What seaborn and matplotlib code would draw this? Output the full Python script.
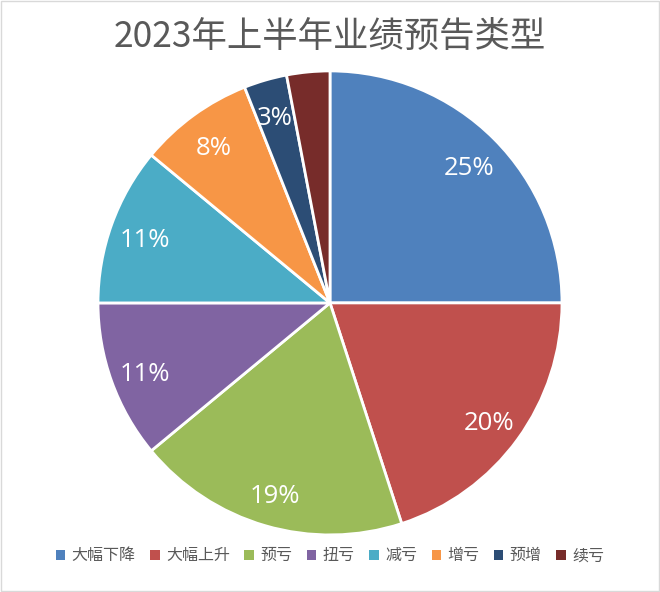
import matplotlib
matplotlib.use("Agg")
import matplotlib.pyplot as plt
import seaborn as sns
from matplotlib.patches import Patch, Rectangle

categories = ["大幅下降", "大幅上升", "预亏", "扭亏", "减亏", "增亏", "预增", "续亏"]
values = [25, 20, 19, 11, 11, 8, 3, 3]
show_label = [True, True, True, True, True, True, True, False]
colors = ["#4F81BD", "#C0504D", "#9BBB59", "#8064A2", "#4BACC6", "#F79646", "#2C4D75", "#772C2A"]
title = "2023年上半年业绩预告类型"

sns.set_theme(style="white")
plt.rcParams['font.family'] = ['Noto Sans CJK SC', 'DejaVu Sans']

palette = sns.color_palette(colors)

fig = plt.figure(figsize=(6.6, 5.92), dpi=100)
fig.patch.set_facecolor("white")
ax = fig.add_axes([0.1485, 0.0963, 0.703, 0.784])

wedges, texts, autotexts = ax.pie(
    values, colors=palette, startangle=90, counterclock=False,
    autopct=lambda p: f"{p:.0f}%", pctdistance=0.85,
    wedgeprops=dict(edgecolor="white", linewidth=2),
    textprops=dict(color="white", fontsize=18.5, family=['Open Sans', 'DejaVu Sans']),
)
for t, s in zip(autotexts, show_label):
    if not s:
        t.set_text("")
    t.set_y(t.get_position()[1] - 0.02)
ax.set_aspect("equal")
ax.set_xlim(-1.0, 1.0)
ax.set_ylim(-1.0, 1.0)

fig.text(0.5, 0.937, title, ha="center", va="center", fontsize=25.5, color="#595959")

handles = [Patch(facecolor=c, edgecolor="none") for c in palette]
fig.legend(handles, categories, loc="center", bbox_to_anchor=(0.5, 0.061), ncol=8,
           frameon=False, fontsize=11.5, handlelength=0.6, handleheight=0.6,
           handletextpad=0.4, columnspacing=0.9, labelcolor="#595959")

fig.add_artist(Rectangle((0.001, 0.001), 0.998, 0.998, transform=fig.transFigure,
                         fill=False, edgecolor="#D9D9D9", linewidth=1))

fig.savefig("out.png", dpi=100, facecolor="white")
